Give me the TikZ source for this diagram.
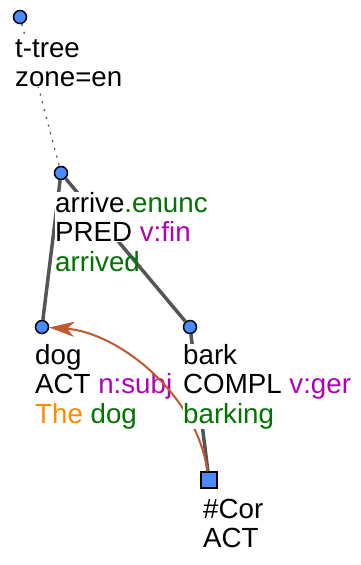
\documentclass[tikz,border=0pt]{standalone}
\usepackage{fontspec}
\setmainfont{Liberation Sans}
\usetikzlibrary{arrows.meta,calc}
\definecolor{tgreen}{RGB}{0,115,0}
\definecolor{tmag}{RGB}{180,0,180}
\definecolor{torange}{RGB}{255,140,0}
\definecolor{tblue}{RGB}{74,140,255}
\definecolor{tedge}{RGB}{85,85,85}
\definecolor{tcoref}{RGB}{192,88,50}

\begin{document}
\begin{tikzpicture}[x=1pt,y=-1pt,
  tnode/.style={circle,draw=black,line width=1.5pt,fill=tblue,minimum size=13pt,inner sep=0pt},
  qnode/.style={rectangle,draw=black,line width=1.5pt,fill=tblue,minimum size=16pt,inner sep=0pt},
  lbl/.style={anchor=base west,align=left,inner sep=0pt,font=\fontsize{27.7}{29.5}\selectfont},
  edge/.style={draw=tedge,line width=3.5pt},
  rootedge/.style={draw=tedge,line width=1.3pt,dash pattern=on 2pt off 6pt},
  coref/.style={draw=tcoref,line width=2pt,-{Stealth[length=25pt,width=15pt,inset=7pt]}}]
\useasboundingbox (0,0) rectangle (360,565);
% tree nodes
\node[tnode] (root) at (20,17) {};
\node[tnode] (arrive) at (61,173) {};
\node[tnode] (dog) at (42,327) {};
\node[tnode] (bark) at (190,327) {};
\node[qnode] (cor) at (209,480) {};
% edges
\draw[rootedge] (root) -- (arrive);
\draw[edge] (arrive) -- (dog);
\draw[edge] (arrive) -- (bark);
\draw[edge] (bark) -- (cor);
% labels (base = last line)
\node[lbl,fill=white] (root-l) at ($(root)+(-5,69.5)$) {t-tree\\zone=en};
\node[lbl,fill=white] (arrive-l) at ($(arrive)+(-6,68.5)$) {arrive\textcolor{tgreen}{.enunc}\\PRED \textcolor{tmag}{v:fin}};
\node[lbl] (arrive-w) at ($(arrive-l.base west)+(0,29.5)$) {\textcolor{tgreen}{arrived}};
\node[lbl,fill=white] (dog-l) at ($(dog)+(-7,96)$) {dog\\ACT \textcolor{tmag}{n:subj}\\\textcolor{torange}{The} \textcolor{tgreen}{dog}};
% coreference arrow
\draw[coref] (cor) .. controls (195,390) and (115,332) .. (dog);
\node[lbl,fill=white] (bark-l) at ($(bark)+(-7,96)$) {bark\\COMPL \textcolor{tmag}{v:ger}\\\textcolor{tgreen}{barking}};
\node[lbl,fill=white] (cor-l) at ($(cor)+(-6,67.5)$) {\#Cor\\ACT};
\end{tikzpicture}
\end{document}
